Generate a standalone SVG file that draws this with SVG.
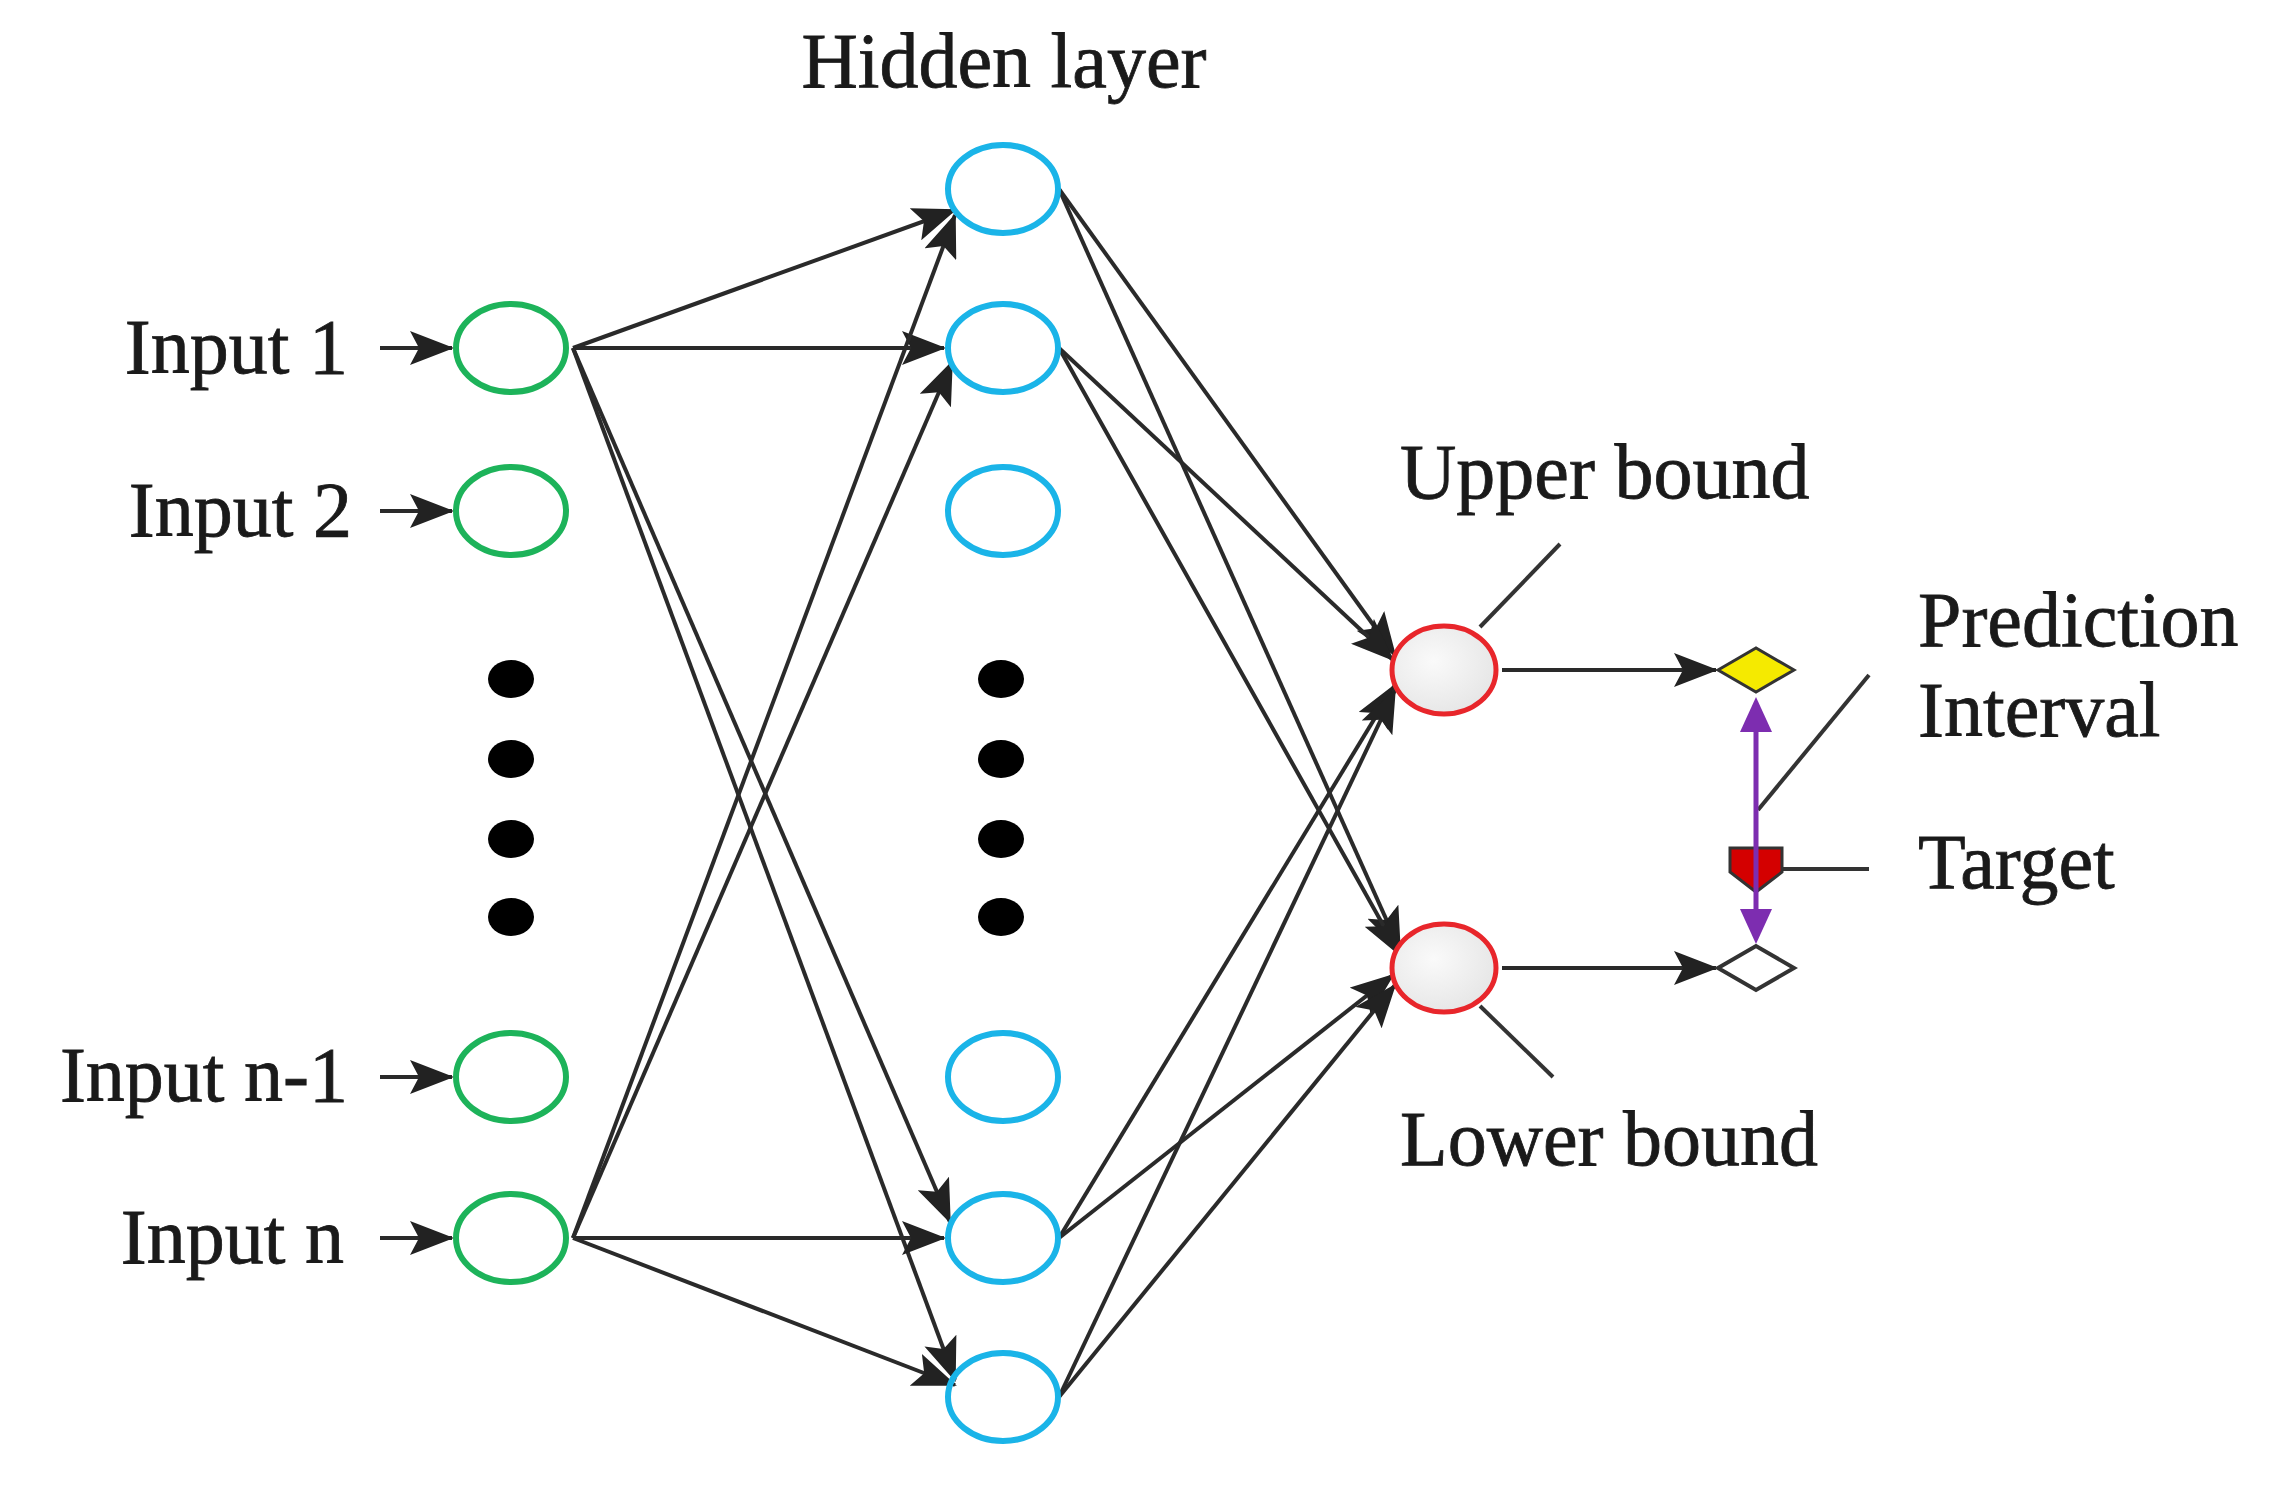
<svg xmlns="http://www.w3.org/2000/svg" width="2275" height="1491" viewBox="0 0 2275 1491">
<style>
text{font-family:"Liberation Serif","Times New Roman",serif;font-size:78px;fill:#1a1a1a;stroke:#1a1a1a;stroke-width:0.8}
.in{fill:none;stroke:#1db35a;stroke-width:6}
.hd{fill:none;stroke:#1ab4e8;stroke-width:6}
.out{fill:url(#g);stroke:#e8262b;stroke-width:5}
.ca{stroke:#2a2a2a;stroke-width:4;fill:none;marker-end:url(#ah)}
.l{stroke:#333;stroke-width:4}
</style>
<defs>
<marker id="ah" markerWidth="44" markerHeight="34" refX="42" refY="17" orient="auto" markerUnits="userSpaceOnUse" viewBox="0 0 44 34">
<path d="M0,0 L44,17 L0,34 L9,17Z" fill="#222"/>
</marker>
<radialGradient id="g" cx="0.4" cy="0.4" r="0.7"><stop offset="0" stop-color="#fafafa"/><stop offset="1" stop-color="#e4e4e4"/></radialGradient>
</defs>
<g id="connectors">
<line class="ca" x1="380" y1="348" x2="452" y2="348"/>
<line class="ca" x1="380" y1="511" x2="452" y2="511"/>
<line class="ca" x1="380" y1="1077" x2="452" y2="1077"/>
<line class="ca" x1="380" y1="1238" x2="452" y2="1238"/>
<line class="ca" x1="573" y1="348" x2="955" y2="210"/>
<line class="ca" x1="573" y1="348" x2="944" y2="348"/>
<line class="ca" x1="573" y1="348" x2="950" y2="1222"/>
<line class="ca" x1="573" y1="348" x2="955" y2="1380"/>
<line class="ca" x1="573" y1="1238" x2="955" y2="215"/>
<line class="ca" x1="573" y1="1238" x2="952" y2="362"/>
<line class="ca" x1="573" y1="1238" x2="944" y2="1238"/>
<line class="ca" x1="573" y1="1238" x2="955" y2="1385"/>
<line class="ca" x1="1059" y1="189" x2="1395" y2="655"/>
<line class="ca" x1="1059" y1="189" x2="1400" y2="950"/>
<line class="ca" x1="1059" y1="348" x2="1393" y2="660"/>
<line class="ca" x1="1059" y1="348" x2="1400" y2="955"/>
<line class="ca" x1="1059" y1="1238" x2="1395" y2="685"/>
<line class="ca" x1="1059" y1="1238" x2="1393" y2="975"/>
<line class="ca" x1="1059" y1="1397" x2="1395" y2="690"/>
<line class="ca" x1="1059" y1="1397" x2="1395" y2="985"/>
<line class="ca" x1="1502" y1="670" x2="1716" y2="670"/>
<line class="ca" x1="1502" y1="968" x2="1716" y2="968"/>
<line class="l" x1="1480" y1="627" x2="1560" y2="544"/>
<line class="l" x1="1480" y1="1006" x2="1553" y2="1077"/>
<line class="l" x1="1758" y1="810" x2="1869" y2="675"/>
<line class="l" x1="1782" y1="869" x2="1869" y2="869"/>
</g>
<g id="input1"><ellipse class="in" cx="511" cy="348" rx="55" ry="44"/><text x="348" y="373" text-anchor="end">Input 1</text></g>
<g id="input2"><ellipse class="in" cx="511" cy="511" rx="55" ry="44"/><text x="352" y="536" text-anchor="end">Input 2</text></g>
<g id="inputn1"><ellipse class="in" cx="511" cy="1077" rx="55" ry="44"/><text x="348" y="1101" text-anchor="end">Input n-1</text></g>
<g id="inputn"><ellipse class="in" cx="511" cy="1238" rx="55" ry="44"/><text x="344" y="1263" text-anchor="end">Input n</text></g>
<g id="dots" fill="#000">
<ellipse cx="511" cy="679" rx="23" ry="19"/><ellipse cx="511" cy="759" rx="23" ry="19"/><ellipse cx="511" cy="839" rx="23" ry="19"/><ellipse cx="511" cy="917" rx="23" ry="19"/>
<ellipse cx="1001" cy="679" rx="23" ry="19"/><ellipse cx="1001" cy="759" rx="23" ry="19"/><ellipse cx="1001" cy="839" rx="23" ry="19"/><ellipse cx="1001" cy="917" rx="23" ry="19"/>
</g>
<g id="hidden"><text x="1004" y="87" text-anchor="middle">Hidden layer</text>
<ellipse class="hd" cx="1003" cy="189" rx="55" ry="44"/>
<ellipse class="hd" cx="1003" cy="348" rx="55" ry="44"/>
<ellipse class="hd" cx="1003" cy="511" rx="55" ry="44"/>
<ellipse class="hd" cx="1003" cy="1077" rx="55" ry="44"/>
<ellipse class="hd" cx="1003" cy="1238" rx="55" ry="44"/>
<ellipse class="hd" cx="1003" cy="1397" rx="55" ry="44"/>
</g>
<g id="upper"><ellipse class="out" cx="1444" cy="670" rx="52" ry="44"/><text x="1400" y="498">Upper bound</text></g>
<g id="lower"><ellipse class="out" cx="1444" cy="968" rx="52" ry="44"/><text x="1400" y="1165">Lower bound</text></g>
<g id="interval">
<path d="M1718,670 L1756,648 L1794,670 L1756,692Z" fill="#f5ea00" stroke="#333" stroke-width="3"/>
<path d="M1718,968 L1756,946 L1794,968 L1756,990Z" fill="#fff" stroke="#333" stroke-width="4"/>
<path d="M1730,848 L1782,848 L1782,872 L1756,892 L1730,872Z" fill="#d40000" stroke="#333" stroke-width="3"/>
<line x1="1756" y1="725" x2="1756" y2="915" stroke="#7d2db0" stroke-width="5"/>
<path d="M1756,697 L1772,732 L1740,732Z" fill="#7d2db0"/>
<path d="M1756,944 L1772,909 L1740,909Z" fill="#7d2db0"/>
<text x="1918" y="646">Prediction</text><text x="1918" y="736">Interval</text>
<text x="1918" y="888">Target</text>
</g>
</svg>
